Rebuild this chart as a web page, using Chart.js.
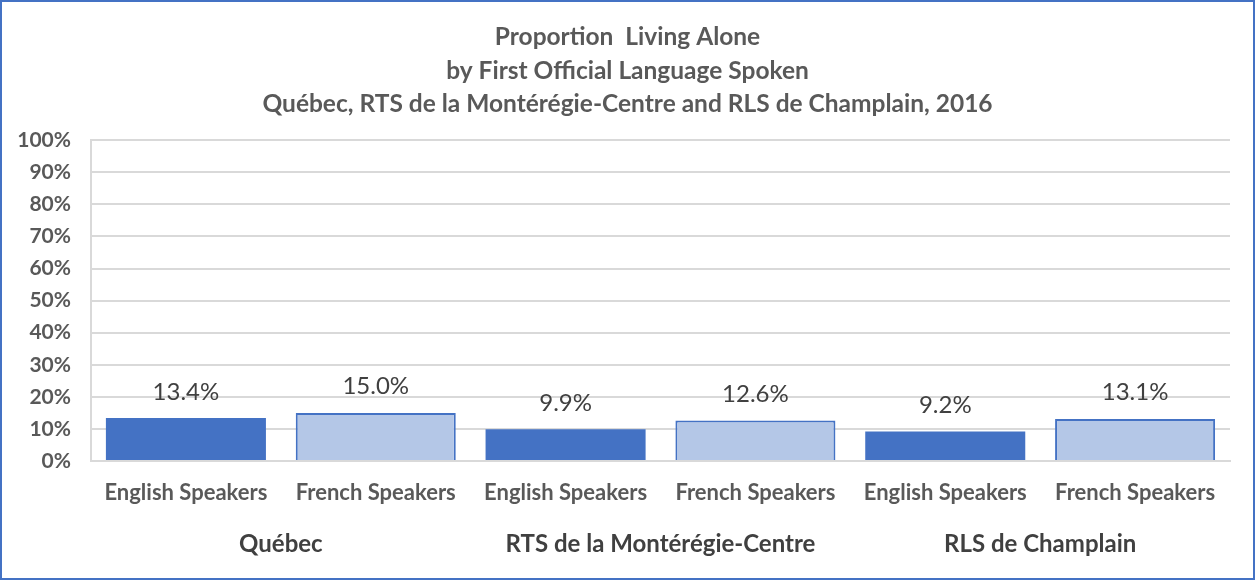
<!DOCTYPE html>
<html>
<head>
<meta charset="utf-8">
<script src="https://cdn.jsdelivr.net/npm/chart.js@4/dist/chart.umd.min.js"></script>
<style>
  html, body { margin: 0; padding: 0; background: #fff; }
  #wrap { width: 1255px; height: 580px; box-sizing: border-box; border: 2px solid #4472C4; position: relative; }
  #wrap canvas { display: block; }
</style>
</head>
<body>
<div id="wrap"><canvas id="c" width="1251" height="576"></canvas></div>
<script>
const titleLines = ['Proportion  Living Alone', 'by First Official Language Spoken', 'Québec, RTS de la Montérégie-Centre and RLS de Champlain, 2016'];
const regions = ['Québec', 'RTS de la Montérégie-Centre', 'RLS de Champlain'];
const languages = ['English Speakers', 'French Speakers'];
const englishValues = [13.4, 9.9, 9.2];
const frenchValues = [15.0, 12.6, 13.1];
const yTicks = [0, 10, 20, 30, 40, 50, 60, 70, 80, 90, 100];

const barLabels = [];
const englishData = [];
const frenchData = [];
regions.forEach((r, i) => {
  barLabels.push(languages[0], languages[1]);
  englishData.push(englishValues[i], null);
  frenchData.push(null, frenchValues[i]);
});

const FONT = 'Lato, "Open Sans", sans-serif';

const valueLabels = {
  id: 'valueLabels',
  afterDatasetsDraw(chart) {
    const ctx = chart.ctx;
    ctx.save();
    ctx.font = '24px ' + FONT;
    ctx.fillStyle = '#404040';
    ctx.textAlign = 'center';
    ctx.textBaseline = 'alphabetic';
    chart.data.datasets.forEach((ds, di) => {
      const meta = chart.getDatasetMeta(di);
      meta.data.forEach((el, i) => {
        const v = ds.data[i];
        if (v === null || v === undefined) return;
        ctx.fillText(v.toFixed(1) + '%', el.x, el.y - 18.5);
      });
    });
    ctx.restore();
  }
};

new Chart(document.getElementById('c'), {
  type: 'bar',
  data: {
    labels: barLabels,
    datasets: [
      { label: 'English', data: englishData, backgroundColor: '#4472C4', borderWidth: 0, barPercentage: 0.843, categoryPercentage: 1 },
      { label: 'French', data: frenchData, backgroundColor: '#B4C7E7', borderColor: '#4472C4', borderWidth: 2, barPercentage: 0.843, categoryPercentage: 1 }
    ]
  },
  options: {
    responsive: false,
    animation: false,
    layout: { padding: { left: 0, right: 0, top: 0, bottom: 0 } },
    plugins: {
      legend: { display: false },
      tooltip: { enabled: false },
      title: {
        display: true,
        text: titleLines,
        color: '#595959',
        font: { family: FONT, size: 24.5, weight: 'bold', lineHeight: 1.35 },
        padding: { top: 19, bottom: 20 }
      }
    },
    scales: {
      x: {
        stacked: true,
        position: 'bottom',
        grid: {
          drawTicks: false,
          color: (c) => (c.index === 0 || c.index === barLabels.length) ? '#d9d9d9' : 'rgba(0,0,0,0)',
          lineWidth: 2
        },
        border: { display: true, color: '#d9d9d9', width: 2 },
        ticks: { color: '#595959', font: { family: FONT, size: 22, weight: 'bold' }, padding: 19, maxRotation: 0, autoSkip: false },
        afterFit(s) { s.height = 60; }
      },
      x2: {
        type: 'category',
        labels: regions,
        position: 'bottom',
        grid: { display: false, drawTicks: false },
        border: { display: false },
        ticks: { color: '#404040', font: { family: FONT, size: 24, weight: 'bold' }, padding: 9, maxRotation: 0, autoSkip: false },
        afterFit(s) { s.height = 57; }
      },
      y: {
        stacked: false,
        min: 0,
        max: 100,
        afterBuildTicks(s) { s.ticks = yTicks.map(v => ({ value: v })); },
        grid: { color: '#d9d9d9', lineWidth: 2, drawTicks: false },
        border: { display: true, color: '#d9d9d9', width: 2 },
        ticks: { color: '#595959', font: { family: FONT, size: 21, weight: 'bold' }, padding: 20, callback: (v) => v + '%' },
        afterFit(s) { s.width = 89; }
      },
      yRight: {
        type: 'linear',
        position: 'right',
        display: true,
        min: 0,
        max: 100,
        grid: { display: false, drawTicks: false },
        border: { display: false },
        ticks: { display: false },
        afterFit(s) { s.width = 23; }
      }
    }
  },
  plugins: [valueLabels]
});
</script>
</body>
</html>
